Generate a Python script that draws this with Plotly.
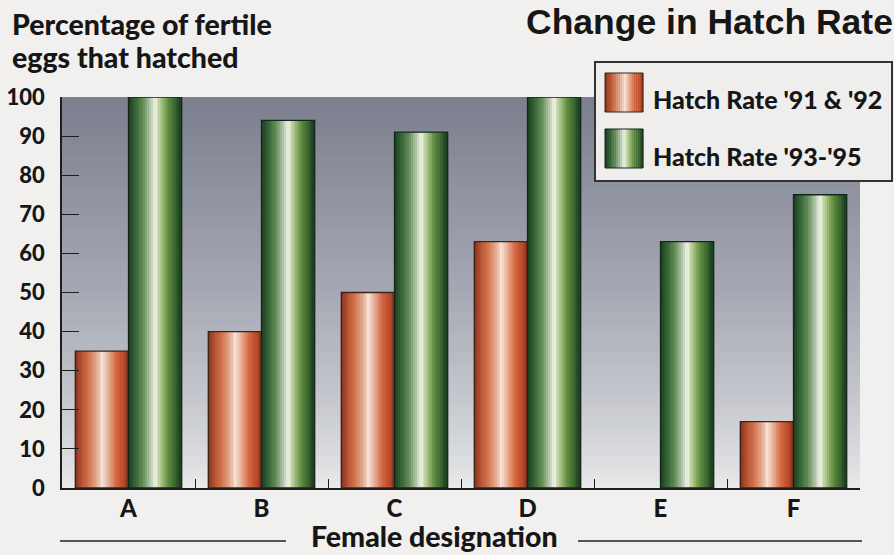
import plotly.graph_objects as go

# ---------------- data ----------------
categories = ["A", "B", "C", "D", "E", "F"]
hatch_91_92 = [35, 40, 50, 63, None, 17]
hatch_93_95 = [100, 94, 91, 100, 63, 75]
series_names = ["Hatch Rate '91 & '92", "Hatch Rate '93-'95"]
y_ticks = [0, 10, 20, 30, 40, 50, 60, 70, 80, 90, 100]

# ---------------- styling ----------------
W, H = 894, 555
L, R, T, B = 62, 860, 97, 488
FONT = "Lato"
TXT = "#161616"
PAGE = "#f1f0ee"

ORANGE_STOPS = [(0.0, "#7e2e1c"), (0.07, "#a8452a"), (0.25, "#cd6e48"), (0.40, "#e3a88c"),
                (0.52, "#f5e2d8"), (0.62, "#e9b49b"), (0.78, "#d3633c"), (0.93, "#b84a2a"),
                (1.0, "#7e2e1c")]
GREEN_STOPS = [(0.0, "#1a3a1e"), (0.10, "#2f5c30"), (0.28, "#5f8a55"), (0.40, "#a9c0a0"),
               (0.50, "#eef2e8"), (0.60, "#b9cf98"), (0.75, "#5f8d40"), (0.90, "#335f2c"),
               (1.0, "#1a3a1e")]


def hex2rgb(h):
    h = h.lstrip("#")
    return tuple(int(h[i:i + 2], 16) for i in (0, 2, 4))


def grad(stops, t):
    for (p0, c0), (p1, c1) in zip(stops[:-1], stops[1:]):
        if p0 <= t <= p1:
            f = (t - p0) / (p1 - p0) if p1 > p0 else 0
            a, b = hex2rgb(c0), hex2rgb(c1)
            return "rgb(%d,%d,%d)" % tuple(round(a[i] + (b[i] - a[i]) * f) for i in range(3))
    return stops[-1][1]


def px_x(px):
    return (px - L) / (R - L)


def px_y(py):
    return (B - py) / (B - T)


fig = go.Figure()

BAR_W = 0.4
N = 28
for values, base, stops, edge in [
    (hatch_91_92, -BAR_W, ORANGE_STOPS, "#3b2418"),
    (hatch_93_95, 0.0, GREEN_STOPS, "#14261a"),
]:
    for k in range(N):
        t = (k + 0.5) / N
        fig.add_trace(go.Bar(
            x=categories, y=values,
            offset=base + k * BAR_W / N, width=BAR_W / N * 1.02,
            marker=dict(color=grad(stops, t), line=dict(width=0)),
            showlegend=False, hoverinfo="skip",
        ))
    fig.add_trace(go.Bar(
        x=categories, y=values, offset=base, width=BAR_W,
        marker=dict(color="rgba(0,0,0,0)", line=dict(color=edge, width=1.3)),
        showlegend=False, cliponaxis=False,
    ))

shapes = []
# plot background gradient
top_c, mid_c, bot_c = hex2rgb("#7b7f8d"), hex2rgb("#a6a9b4"), hex2rgb("#ebebec")
NB = 60
for i in range(NB):
    y0 = i / NB
    y1 = (i + 1) / NB + 0.002
    t = (i + 0.5) / NB  # 0 bottom, 1 top
    if t < 0.5:
        f = t / 0.5
        c = tuple(round(bot_c[j] + (mid_c[j] - bot_c[j]) * f ** 0.8) for j in range(3))
    else:
        f = (t - 0.5) / 0.5
        c = tuple(round(mid_c[j] + (top_c[j] - mid_c[j]) * f) for j in range(3))
    shapes.append(dict(type="rect", xref="paper", yref="paper", x0=0, x1=1, y0=y0, y1=min(y1, 1),
                       fillcolor="rgb(%d,%d,%d)" % c, line=dict(width=0), layer="below"))

# x-axis title lines
ly = px_y(541)
shapes.append(dict(type="line", xref="paper", yref="paper", x0=px_x(60), x1=px_x(286), y0=ly, y1=ly,
                   line=dict(color="#222", width=1.5)))
shapes.append(dict(type="line", xref="paper", yref="paper", x0=px_x(578), x1=px_x(862), y0=ly, y1=ly,
                   line=dict(color="#222", width=1.5)))

# custom legend box
shapes.append(dict(type="rect", xref="paper", yref="paper", x0=px_x(595), x1=px_x(892),
                   y0=px_y(181), y1=px_y(62), fillcolor="#efeeec", line=dict(color="#333", width=2),
                   layer="above"))
annotations = []
for (sy0, sy1), stops, edge, name, ty in [((73, 112), ORANGE_STOPS, "#3b2418", series_names[0], 98.5),
                                          ((129, 168), GREEN_STOPS, "#14261a", series_names[1], 155.5)]:
    sx0, sx1 = 605, 643
    M = 20
    for k in range(M):
        t = (k + 0.5) / M
        shapes.append(dict(type="rect", xref="paper", yref="paper",
                           x0=px_x(sx0 + (sx1 - sx0) * k / M), x1=px_x(sx0 + (sx1 - sx0) * (k + 1) / M + 0.3),
                           y0=px_y(sy1), y1=px_y(sy0), fillcolor=grad(stops, t), line=dict(width=0),
                           layer="above"))
    shapes.append(dict(type="rect", xref="paper", yref="paper", x0=px_x(sx0), x1=px_x(sx1),
                       y0=px_y(sy1), y1=px_y(sy0), line=dict(color=edge, width=1), layer="above"))
    annotations.append(dict(text=name, xref="paper", yref="paper", x=px_x(651),
                            y=px_y(ty), xanchor="left", yanchor="middle",
                            showarrow=False, font=dict(family=FONT, size=25, color=TXT, weight=900)))

annotations += [
    dict(text="Change in Hatch Rate", xref="paper", yref="paper", x=px_x(895), y=px_y(22),
         xanchor="right", yanchor="middle", showarrow=False,
         font=dict(family="Liberation Sans", size=35.5, color=TXT, weight="bold")),
    dict(text="Percentage of fertile", xref="paper", yref="paper", x=px_x(10),
         y=px_y(24.5), xanchor="left", yanchor="middle", showarrow=False,
         font=dict(family=FONT, size=28.5, color=TXT, weight=900)),
    dict(text="eggs that hatched", xref="paper", yref="paper", x=px_x(10),
         y=px_y(57), xanchor="left", yanchor="middle", showarrow=False,
         font=dict(family=FONT, size=28.5, color=TXT, weight=900)),
    dict(text="Female designation", xref="paper", yref="paper", x=px_x(434), y=px_y(536),
         xanchor="center", yanchor="middle", showarrow=False,
         font=dict(family=FONT, size=28.5, color=TXT, weight=900)),
]

fig.update_layout(
    width=W, height=H,
    margin=dict(l=L, r=W - R, t=T, b=H - B),
    paper_bgcolor=PAGE, plot_bgcolor="#a6a9b4",
    barmode="overlay",
    shapes=shapes, annotations=annotations,
    showlegend=False,
    xaxis=dict(type="category", categoryorder="array", categoryarray=categories,
               showline=True, linecolor="#1e1e1e", linewidth=2, showgrid=False,
               ticks="inside", tickson="boundaries", ticklen=9, tickwidth=1.3, tickcolor="#1e1e1e",
               ticklabelstandoff=-2, automargin=False,
               tickfont=dict(family=FONT, size=24, color=TXT, weight=900), zeroline=False),
    yaxis=dict(range=[0, 100], tickvals=y_ticks, showline=True, linecolor="#1e1e1e", linewidth=1.5,
               showgrid=False, zeroline=False, ticks="inside", ticklen=17, tickwidth=1.3,
               tickcolor="#1e1e1e", ticklabelstandoff=11, automargin=False,
               tickfont=dict(family=FONT, size=22, color=TXT, weight=900)),
)

fig.write_html(
    "out.html",
    config={"displayModeBar": False},
    post_script="document.body.style.margin='0';document.body.style.overflow='hidden';"
                "document.body.style.background='" + PAGE + "';",
)
